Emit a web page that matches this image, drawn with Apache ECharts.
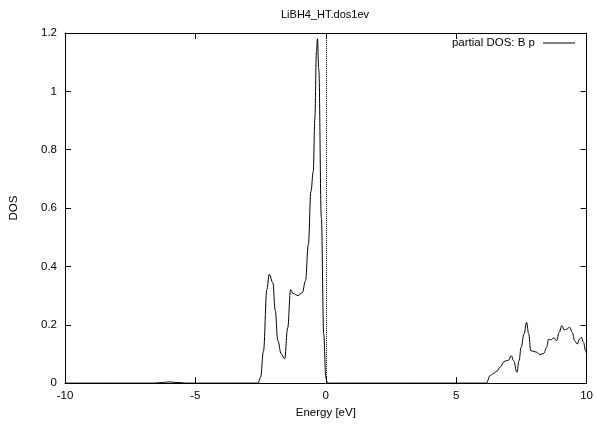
<!DOCTYPE html>
<html><head><meta charset="utf-8">
<script src="https://cdn.jsdelivr.net/npm/echarts@6/dist/echarts.min.js"></script>
<style>html,body{margin:0;padding:0;background:#fff}#c{width:596px;height:424px}</style>
</head><body><div id="c"></div>
<script>
var chartTitle = "LiBH4_HT.dos1ev";
var seriesName = "partial DOS: B p";
var xTicks = [-10, -5, 0, 5, 10];
var yTicks = [0, 0.2, 0.4, 0.6, 0.8, 1, 1.2];
var energy = [-10, -6.6, -6.3, -6.0, -5.7, -5.3, -2.6, -2.5, -2.39, -2.26, -2.17, -2.03, -1.94, -1.84, -1.71, -1.58, -1.46, -1.35, -1.25, -1.06, -0.9, -0.78, -0.67, -0.57, -0.48, -0.42, -0.36, -0.32, -0.27, -0.17, -0.08, 0.0, 0.04, 0.1, 6.15, 6.31, 6.44, 6.56, 6.69, 6.84, 7.01, 7.11, 7.2, 7.33, 7.41, 7.49, 7.6, 7.7, 7.78, 7.86, 7.96, 8.08, 8.21, 8.36, 8.47, 8.54, 8.62, 8.75, 8.85, 8.95, 9.05, 9.14, 9.23, 9.35, 9.45, 9.54, 9.64, 9.73, 9.8, 9.88, 9.96, 10];
var dos = [0, 0, 0.002, 0.004, 0.002, 0, 0, 0.02, 0.11, 0.32, 0.373, 0.344, 0.25, 0.146, 0.1, 0.083, 0.19, 0.32, 0.307, 0.3, 0.31, 0.35, 0.475, 0.657, 0.726, 0.907, 1.134, 1.18, 1.077, 0.566, 0.168, 0.02, 0.005, 0, 0, 0.026, 0.034, 0.041, 0.055, 0.074, 0.079, 0.094, 0.077, 0.037, 0.077, 0.123, 0.168, 0.208, 0.168, 0.111, 0.109, 0.106, 0.098, 0.102, 0.123, 0.151, 0.148, 0.155, 0.145, 0.174, 0.197, 0.182, 0.185, 0.191, 0.174, 0.145, 0.134, 0.151, 0.157, 0.14, 0.111, 0.1];

var pts = energy.map(function (e, i) { return [e, dos[i]]; });
var font = 'Liberation Sans, Arial, sans-serif';
var chart = echarts.init(document.getElementById('c'));
var axisLine = { show: true, onZero: false, lineStyle: { color: '#000', width: 1 } };
var tick = { show: true, inside: true, length: 6, lineStyle: { color: '#000' } };
chart.setOption({
  animation: false,
  title: { text: chartTitle, left: 276, top: 4, textStyle: { fontFamily: font, fontSize: 11, fontWeight: 'normal', color: '#000' } },
  legend: {
    right: 16, top: 32, align: 'right', itemWidth: 32, itemHeight: 1, itemGap: 0,
    data: [{ name: seriesName, icon: 'rect' }],
    textStyle: { fontFamily: font, fontSize: 11.5, color: '#000', padding: [0, 3, 0, 0] }
  },
  grid: { left: 65, right: 7, top: 33, bottom: 37 },
  xAxis: [{
    type: 'value', min: xTicks[0], max: xTicks[xTicks.length - 1], interval: 5,
    name: 'Energy [eV]', nameLocation: 'middle', nameGap: 20,
    nameTextStyle: { fontFamily: font, fontSize: 11.5, color: '#000' },
    axisLine: axisLine, axisTick: tick, splitLine: { show: false },
    axisLabel: { fontFamily: font, fontSize: 11.5, color: '#000', margin: 7 }
  }, {
    type: 'value', position: 'top', min: -10, max: 10, interval: 5,
    axisLine: axisLine, axisTick: tick, splitLine: { show: false }, axisLabel: { show: false }
  }],
  yAxis: [{
    type: 'value', min: yTicks[0], max: yTicks[yTicks.length - 1], interval: 0.2,
    name: 'DOS', nameLocation: 'middle', nameGap: 45, nameRotate: 90,
    nameTextStyle: { fontFamily: font, fontSize: 11.5, color: '#000' },
    axisLine: axisLine, axisTick: tick, splitLine: { show: false },
    axisLabel: { fontFamily: font, fontSize: 11.5, color: '#000', margin: 8,
      formatter: function (v) { return String(Math.round(v * 10) / 10); } }
  }, {
    type: 'value', position: 'right', min: 0, max: 1.2, interval: 0.2,
    axisLine: axisLine, axisTick: tick, splitLine: { show: false }, axisLabel: { show: false }
  }],
  series: [{
    name: seriesName, type: 'line', data: pts, symbol: 'none', smooth: 0.4, smoothMonotone: 'x',
    itemStyle: { color: '#000' },
    lineStyle: { color: '#000', width: 1 },
    markLine: {
      silent: true, symbol: 'none', label: { show: false },
      lineStyle: { color: '#000', type: [1, 1], width: 1 },
      data: [{ xAxis: 0 }]
    }
  }]
});
</script></body></html>
